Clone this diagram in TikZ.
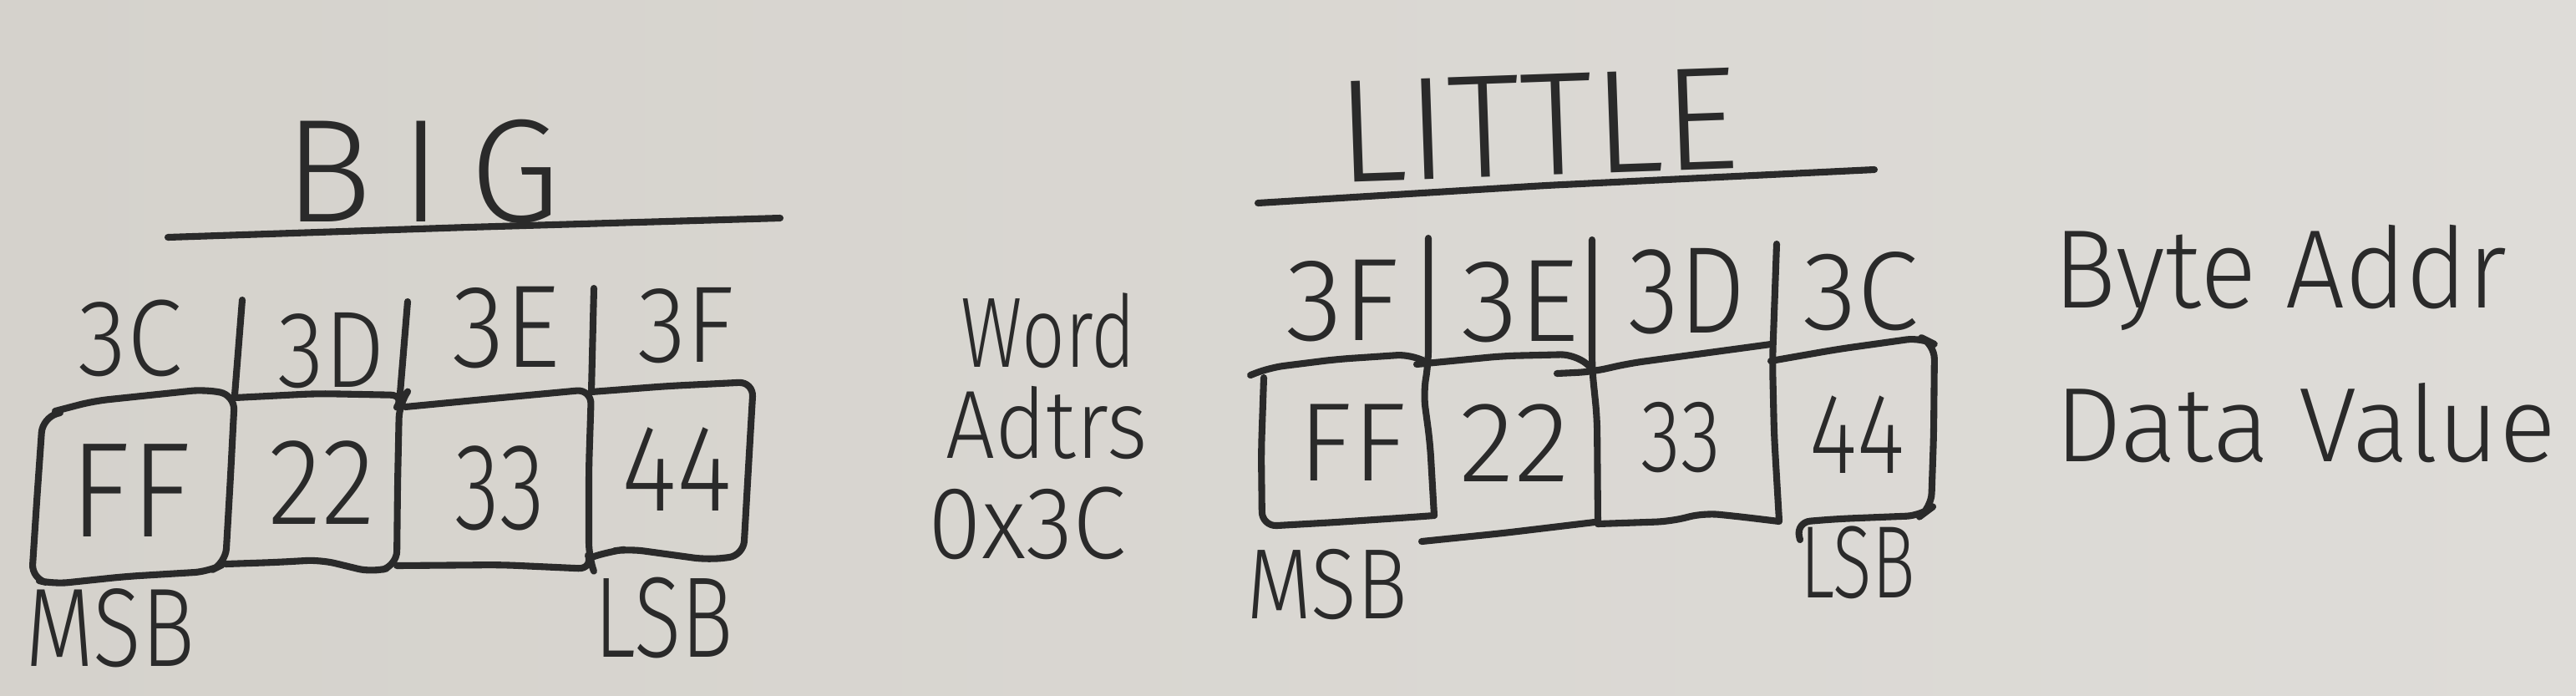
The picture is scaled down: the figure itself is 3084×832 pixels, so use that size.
\documentclass[tikz,border=0pt]{standalone}
\usepackage{fontspec}
\setmainfont{Fira Sans Light}
\usepackage{graphicx}
\definecolor{ink}{HTML}{2A2A2A}
\definecolor{paperL}{HTML}{D5D2CC}
\definecolor{paperR}{HTML}{DEDCD8}
\newcommand{\sx}[2]{\scalebox{#1}[1]{#2}}
\newcommand{\lsp}[2]{{\addfontfeature{LetterSpace=#1}#2}}
\tikzset{
  pen/.style={draw=ink, line width=2.3pt, line cap=round, line join=round, rounded corners=5pt},
  hw/.style={text=ink, inner sep=0pt, font=\fontsize{#1}{#1}\selectfont},
}
\begin{document}
\begin{tikzpicture}[x=0.01cm, y=-0.01cm]
\fill[left color=paperL, right color=paperR] (0,0) rectangle (3084,832);
\useasboundingbox (0,0) rectangle (3084,832);

% ---------------- BIG ----------------
\node[hw=50pt] (bigT) at (506,205) {\lsp{19}{BIG}};
\coordinate (bu1) at (201,284); \coordinate (bu2) at (934,261);
\draw[pen] (bu1) -- (560,272) -- (bu2);

\node[hw=37pt] (b3C) at (156,405) {\sx{0.92}{3C}};
\node[hw=37pt] (b3D) at (397,420) {\sx{0.88}{3D}};
\node[hw=40pt] (b3E) at (606,392) {\sx{0.92}{3E}};
\node[hw=37pt] (b3F) at (821,390) {\sx{0.92}{3F}};

% dividers between addresses
\draw[pen] (290,359) -- (281,473);
\draw[pen] (488,361) -- (478,483);
\draw[pen] (711,345) -- (708,469);

% FF box
\draw[pen] (66,492) -- (112,480) -- (246,466) -- (281,473) -- (276,570) -- (270,674)
  -- (250,684) -- (150,690) -- (64,699) -- (38,693) -- (44,600) -- (51,500) -- (72,494);
% 22 box
\draw[pen] (281,476) -- (380,471) -- (485,473) -- (478,483) -- (476,580) -- (475,677)
  -- (446,685) -- (384,670) -- (330,673) -- (270,675);
% 33 box
\draw[pen] (485,487) -- (600,476) -- (708,466) -- (705,560) -- (705,667) -- (710,681)
  -- (600,676) -- (475,677);
% 44 box
\draw[pen] (708,469) -- (800,462) -- (902,457) -- (896,560) -- (890,665)
  -- (848,670) -- (753,657) -- (730,660) -- (708,667);

\node[hw=46pt] (bFF) at (156,587) {\sx{0.93}{FF}};
\node[hw=42pt] (b22) at (385,578) {\sx{0.9}{22}};
\node[hw=42pt] (b33) at (598,584) {\sx{0.75}{33}};
\node[hw=42pt] (b44) at (810,562) {\sx{0.86}{44}};

\node[hw=38pt] (bMSB) at (132,752) {\sx{0.8}{MSB}};
\node[hw=39pt] (bLSB) at (795,740) {\sx{0.76}{LSB}};

% ---------------- middle ----------------
\node[hw=34pt] (word) at (1255,396) {\sx{0.76}{Word}};
\node[hw=33pt] (addrs) at (1253,506) {\sx{0.9}{Adtrs}};
\node[hw=35pt] (addr0) at (1230,626) {\sx{0.94}{0x3C}};

% ---------------- LITTLE ----------------
\node[hw=50pt, rotate=2] (litT) at (1841,150) {LITTLE};
\coordinate (lu1) at (1506,243); \coordinate (lu2) at (2244,203);
\draw[pen] (lu1) -- (1850,222) -- (lu2);

\node[hw=40pt] (l3F) at (1607,360) {3F};
\node[hw=40pt] (l3E) at (1820,361) {3E};
\node[hw=42pt] (l3D) at (2020,349) {\sx{0.85}{3D}};
\node[hw=38pt] (l3C) at (2228,349) {3C};

% dividers (continuing into box sides)
\draw[pen] (1710,285) -- (1710,436) -- (1704,470) -- (1712,530) -- (1717,617);
\draw[pen] (1906,287) -- (1906,441) -- (1912,500) -- (1913,627);
\draw[pen] (2127,292) -- (2122,432) -- (2124,520) -- (2130,623);

% FF box
\draw[pen] (1705,432) -- (1690,424) -- (1600,430) -- (1520,440) -- (1497,449);
\draw[pen] (1513,452) -- (1510,540) -- (1511,630) -- (1600,625) -- (1690,619) -- (1717,617);
% 22 box
\draw[pen] (1696,436) -- (1800,426) -- (1886,424) -- (1906,441);
\draw[pen] (1702,648) -- (1800,638) -- (1909,625);
% 33 box
\draw[pen] (1864,447) -- (1906,445) -- (1950,435) -- (2120,412);
\draw[pen] (1913,627) -- (2000,624) -- (2040,614) -- (2080,618) -- (2130,624);
% 44 box
\draw[pen] (2120,432) -- (2200,418) -- (2300,404) -- (2316,412) -- (2315,520) -- (2312,608)
  -- (2300,617) -- (2200,621) -- (2150,625) -- (2155,646);

\node[hw=38pt] (lFF) at (1619,530) {FF};
\node[hw=39pt] (l22) at (1813,530) {22};
\node[hw=35pt] (l33) at (2012,524) {\sx{0.8}{33}};
\node[hw=39pt] (l44) at (2223,520) {\sx{0.8}{44}};

\node[hw=34pt] (lMSB) at (1589,700) {\sx{0.85}{MSB}};
\node[hw=35pt] (lLSB) at (2224,673) {\sx{0.7}{LSB}};

% ---------------- legend ----------------
\node[hw=38pt, anchor=base] (byte) at (2730,368) {\sx{0.94}{Byte Addr}};
\node[hw=36pt, anchor=base] (data) at (2760,552) {Data Value};
\end{tikzpicture}
\end{document}
